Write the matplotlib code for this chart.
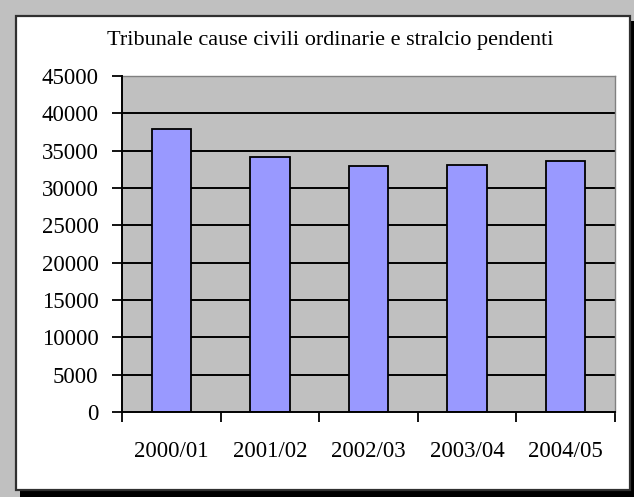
import matplotlib
matplotlib.use("Agg")
import matplotlib.pyplot as plt
from matplotlib.patches import Rectangle
import numpy as np

# Pending ordinary and "stralcio" civil cases at the Tribunale, per judicial year
years = ["2000/01", "2001/02", "2002/03", "2003/04", "2004/05"]
pending = [37900, 34100, 33000, 33100, 33600]
y_ticks = [0, 5000, 10000, 15000, 20000, 25000, 30000, 35000, 40000, 45000]
title = "Tribunale cause civili ordinarie e stralcio pendenti"

W, H = 634, 497
plt.rcParams["font.family"] = ["Liberation Serif", "DejaVu Serif"]

fig = plt.figure(figsize=(W / 100, H / 100), dpi=100, facecolor="#c0c0c0")


def px_box(x0, y0, x1, y1):
    """Convert a pixel box (top-left origin) to figure fractions."""
    return (x0 / W, 1 - y1 / H, (x1 - x0) / W, (y1 - y0) / H)


# Chart panel with drop shadow, kept beneath the axes
for box in [(630, 21, 634, 497), (20, 490, 634, 497)]:
    x, y, w, h = px_box(*box)
    fig.add_artist(Rectangle((x, y), w, h, transform=fig.transFigure,
                             facecolor="black", edgecolor="none", zorder=-2))
x, y, w, h = px_box(16, 16, 630, 490)
fig.add_artist(Rectangle((x, y), w, h, transform=fig.transFigure,
                         facecolor="white", edgecolor="#303030",
                         linewidth=1.6, zorder=-1))

ax = fig.add_axes(px_box(122, 76, 615, 412))
ax.set_zorder(1)
ax.set_facecolor("#c0c0c0")

pos = np.arange(len(years))
ax.bar(pos, pending, width=0.4, color="#9999ff", edgecolor="black",
       linewidth=1.3, zorder=3)

ax.set_xlim(-0.5, len(years) - 0.5)
ax.set_ylim(0, 45000)

# Horizontal gridlines
for v in y_ticks[1:-1]:
    ax.axhline(v, color="black", linewidth=1.4, zorder=1)

ax.set_yticks(y_ticks)
ax.set_yticklabels([str(v) for v in y_ticks], fontsize=16.5)
ax.tick_params(axis="y", length=7, width=1.3, pad=10, direction="out")

ax.set_xticks(pos)
ax.set_xticklabels(years, fontsize=16.5)
ax.set_xticks(np.arange(len(years) + 1) - 0.5, minor=True)
ax.tick_params(axis="x", which="major", length=0, pad=21)
ax.tick_params(axis="x", which="minor", length=7, width=1.3, direction="out")

for side in ["top", "right"]:
    ax.spines[side].set_color("#808080")
    ax.spines[side].set_linewidth(1.0)
for side in ["left", "bottom"]:
    ax.spines[side].set_color("black")
    ax.spines[side].set_linewidth(1.4)
    ax.spines[side].set_zorder(4)

fig.text(330 / W, 1 - 40 / H, title, ha="center", va="center", fontsize=16)

fig.savefig("out.png", dpi=100, facecolor=fig.get_facecolor())
